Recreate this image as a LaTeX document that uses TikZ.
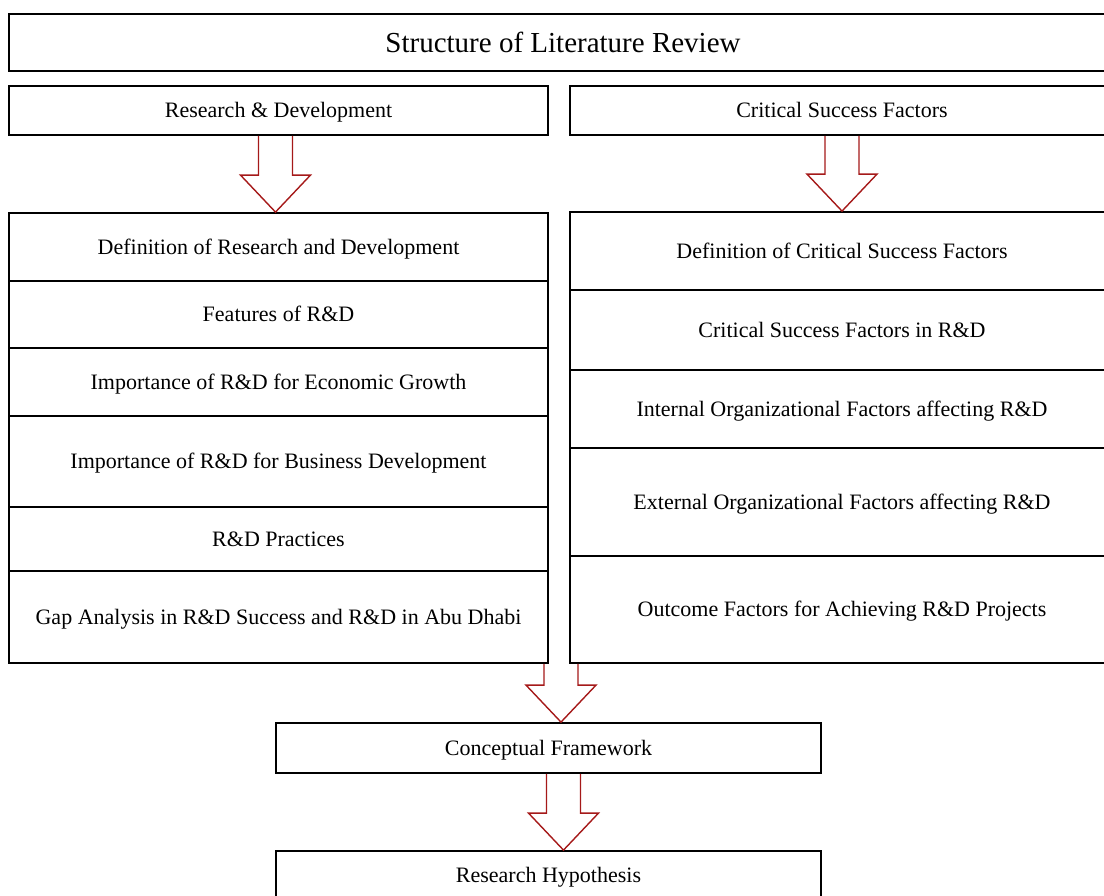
\documentclass[tikz,border=0pt]{standalone}
\usepackage{fontspec}
\setmainfont{Liberation Serif}
\usetikzlibrary{calc}

\definecolor{arrowred}{RGB}{165,25,25}

\tikzset{
  box/.style={draw=black, line width=1.8pt, inner sep=0pt, align=center},
  titletext/.style={font=\fontsize{29}{33}\selectfont, text height=19pt, text depth=0pt},
  itemtext/.style={font=\fontsize{22}{26}\selectfont, text height=14.5pt, text depth=0pt},
  fatarrow/.style={draw=arrowred, line width=1.4pt, line join=miter},
}

% hollow block arrow from the bottom of #2 to the top of #3, axis shifted by #1
\newcommand{\blockarrow}[3][0pt]{%
  \draw[fatarrow] let \p1=(#2), \p2=(#3) in
    (\x1+#1-17pt,\y1) -- (\x1+#1-17pt,\y2+37pt) -- (\x1+#1-35pt,\y2+37pt)
    -- (\x1+#1,\y2) -- (\x1+#1+35pt,\y2+37pt) -- (\x1+#1+17pt,\y2+37pt)
    -- (\x1+#1+17pt,\y1);}

\begin{document}
\begin{tikzpicture}[x=1pt,y=-1pt]
\useasboundingbox (0,0) rectangle (1104,895);

% title
\node[box, titletext, minimum width=1108pt, minimum height=57pt]
  (title) at (563,42.5) {Structure of Literature Review};

% column headers
\node[box, itemtext, minimum width=539pt, minimum height=49pt]
  (rd) at (278.5,110.5) {Research \& Development};
\node[box, itemtext, minimum width=544pt, minimum height=49pt]
  (csf) at (842,110.5) {Critical Success Factors};

% left column
\node[box, itemtext, minimum width=539pt, minimum height=68pt]
  (l1) at (278.5,247) {Definition of Research and Development};
\node[box, itemtext, minimum width=539pt, minimum height=67pt]
  (l2) at (278.5,314.5) {Features of R\&D};
\node[box, itemtext, minimum width=539pt, minimum height=68pt]
  (l3) at (278.5,382) {Importance of R\&D for Economic Growth};
\node[box, itemtext, minimum width=539pt, minimum height=91pt]
  (l4) at (278.5,461.5) {Importance of R\&D for Business Development};
\node[box, itemtext, minimum width=539pt, minimum height=64pt]
  (l5) at (278.5,539) {R\&D Practices};
\node[box, itemtext, minimum width=539pt, minimum height=92pt]
  (l6) at (278.5,617) {Gap Analysis in R\&D Success and R\&D in Abu Dhabi};

% right column
\node[box, itemtext, minimum width=544pt, minimum height=78pt]
  (r1) at (842,251) {Definition of Critical Success Factors};
\node[box, itemtext, minimum width=544pt, minimum height=80pt]
  (r2) at (842,330) {Critical Success Factors in R\&D};
\node[box, itemtext, minimum width=544pt, minimum height=78pt]
  (r3) at (842,409) {Internal Organizational Factors affecting R\&D};
\node[box, itemtext, minimum width=544pt, minimum height=108pt]
  (r4) at (842,502) {External Organizational Factors affecting R\&D};
\node[box, itemtext, minimum width=544pt, minimum height=107pt]
  (r5) at (842,609.5) {Outcome Factors for Achieving R\&D Projects};

% closing boxes
\node[box, itemtext, minimum width=545pt, minimum height=50pt]
  (cf) at (548.5,748) {Conceptual Framework};
\node[box, itemtext, minimum width=545pt, minimum height=48pt]
  (rh) at (548.5,875) {Research Hypothesis};

% gap between the two columns, where the joint arrow starts
\coordinate (gap) at ($(l6.south east)!0.5!(r5.south west)$);

% arrows
\blockarrow[-3pt]{rd.south}{l1.north}
\blockarrow{csf.south}{r1.north}
\blockarrow[2pt]{gap}{cf.north}
\blockarrow[15pt]{cf.south}{rh.north}
\end{tikzpicture}
\end{document}
